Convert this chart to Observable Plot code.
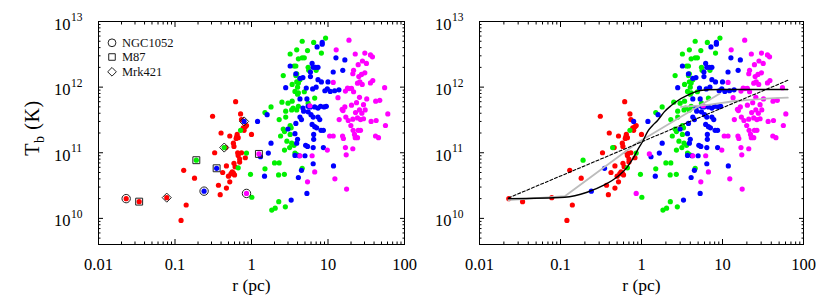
<!DOCTYPE html>
<html><head><meta charset="utf-8">
<script src="https://cdn.jsdelivr.net/npm/d3@7"></script>
<script src="https://cdn.jsdelivr.net/npm/@observablehq/plot@0.6"></script>
<style>
body{margin:0;background:#fff;}
#wrap{position:relative;width:830px;height:302px;overflow:hidden;font-family:"Liberation Serif","Times New Roman",Times,"DejaVu Serif",serif;}
#left{position:absolute;left:0;top:0;}
#right{position:absolute;left:415px;top:0;}
.ylab{position:absolute;font-size:20px;white-space:nowrap;transform:translate(-50%,-50%) rotate(-90deg);line-height:1;letter-spacing:0.6px;}
.ylab sub{font-size:14px;}
</style></head><body><div id="wrap"><div id="left"></div><div id="right"></div>
<div class="ylab" style="left:34px;top:128px;">T<sub>b</sub> (K)</div></div>
<script>
// ---- data (r in pc, Tb in K) ----
const redR = [0.023,0.034,0.078,0.12,0.14,0.13,0.18,0.31,0.33,0.40,0.52,0.58,0.46,0.65,0.67,0.62,0.72,0.74,0.83,0.86,0.80,1.0,0.66,0.74,0.67,0.83,0.70,0.59,0.61,0.58,0.56,0.54,0.60,0.50,0.52,0.47,0.39,0.37,0.42,0.47,0.59,0.63,0.78,0.70,0.64];
const redT = [2.0e10,1.8e10,2.07e10,9.3e9,1.6e10,5.4e10,4.1e10,3.6e11,1.0e11,2.0e11,1.8e11,1.4e11,1.2e11,1.9e11,1.7e11,6.0e11,3.9e11,3.2e11,2.5e11,2.6e11,2.2e11,1.9e11,1.0e11,1.0e11,9.1e10,8.4e10,7.2e10,6.9e10,6.1e10,4.9e10,5.1e10,4.8e10,4.6e10,4.4e10,3.6e10,2.9e10,2.3e10,3.2e10,5.0e10,6.3e10,1.25e11,1.65e11,2.4e11,8.0e10,1.75e11];
const greenR = [0.19,0.44,0.72,0.67,0.86,0.97,1.01,1.84,2.04,2.27,2.77,2.26,2.69,1.5,2.0,2.3,4.6,
  9.3,4.6,6.5,5.4,3.9,8.2,4.1,4.6,4.9,5.5,5.6,7.0,3.6,3.9,3.8,4.3,2.6,3.4,3.9,4.1,4.0,3.7,4.1,4.0,4.9,
  2.5,3.4,3.0,3.35,3.5,3.9,4.1,5.5,6.7,1.8,1.5,2.3,2.8,2.8,3.2,3.3,3.2,2.6,2.7,2.4,2.9,3.35,3.6,2.7,3.15,3.7,3.9,
  3.2,3.8];
const greenT = [7.7e10,1.2e11,2.2e11,5.9e10,9.9e10,4.7e10,2.1e10,1.34e10,1.43e10,1.8e10,1.5e10,4.6e10,4.7e10,5.7e10,7.0e10,7.0e10,5.8e10,
  5.6e12,5.0e12,4.8e12,3.6e12,3.7e12,3.3e12,2.7e12,2.8e12,2.8e12,2.0e12,1.8e12,1.8e12,2.1e12,1.6e12,1.5e12,1.3e12,1.5e12,1.1e12,1.2e12,1.16e12,1.0e12,8.6e11,8.2e11,7.8e11,8.5e11,
  5.9e11,6.1e11,5.7e11,4.5e11,4.8e11,4.5e11,5.1e11,5.7e11,6.8e11,5.0e11,4.1e11,3.2e11,4.3e11,3.5e11,2.6e11,2.4e11,1.9e11,2.3e11,2.1e11,1.8e11,1.5e11,1.4e11,1.3e11,1.1e11,1.2e11,9.9e10,9.4e10,
  3.2e12,2.1e12];
const blueR = [0.24,0.35,0.80,1.2,1.31,1.48,1.6,1.8,1.66,3.3,4.1,4.5,5.3,6.4,11.8,
  8.4,8.4,7.2,3.2,3.8,4.7,4.3,6.2,6.4,6.9,7.4,5.9,5.9,7.4,8.2,10.0,9.8,9.1,10.7,12.2,13.9,12.7,16.6,15.6,11.7,
  2.8,5.2,6.3,7.0,4.3,5.3,5.5,5.9,6.7,7.4,8.0,8.9,9.5,4.7,4.8,5.5,6.0,6.4,7.4,7.8,4.3,3.8,4.5,6.2,6.7,7.1,8.1,8.7,6.5,
  3.0,3.7,4.0,3.9,5.1,5.4,6.5,6.4,8.7,3.7,4.2,5.0];
const blueT = [2.6e10,5.8e10,3.0e11,3.0e11,8.7e10,4.4e10,3.8e11,1.4e11,9.9e10,1.9e10,4.2e10,5.4e10,2.4e10,6.8e10,6.3e10,
  4.8e12,4.5e12,4.1e12,2.1e12,1.6e12,1.4e12,1.36e12,2.3e12,2.0e12,2.0e12,2.0e12,1.7e12,1.45e12,1.3e12,1.2e12,1.2e12,9.4e11,8.8e11,8.6e11,8.8e11,9.1e11,2.8e12,2.6e12,1.8e12,1.7e12,
  9.8e11,9.7e11,9.4e11,1.0e12,6.6e11,6.6e11,5.1e11,5.0e11,5.0e11,4.8e11,5.1e11,5.0e11,5.1e11,4.8e11,4.3e11,4.2e11,3.8e11,3.5e11,3.5e11,3.2e11,3.5e11,2.8e11,3.2e11,2.7e11,2.5e11,2.4e11,2.2e11,2.2e11,1.9e11,
  2.3e11,1.95e11,1.6e11,1.4e11,1.3e11,1.25e11,1.6e11,1.2e11,1.2e11,9.1e10,9.0e10,9.0e10];
const magR = [0.86,1.25,5.4,6.7,12.3,17.5,4.3,6.2,5.8,10.5,9.8,
  18.8,12.8,22.7,30.3,35.9,38.1,28.2,31.8,24.8,21.6,21.1,30.3,27.4,25.3,11.7,18.0,20.3,21.6,18.9,16.9,26.1,28.0,24.3,35.9,38.5,55,
  32.1,25.8,23.6,20.3,29.1,30.6,42,47.5,13.5,15.3,15.7,16.6,14.0,17.1,18.4,21.1,24.3,26.6,29.1,27.7,22.9,25.8,36.6,42.6,56.4,60.5,
  19.9,21.3,24.8,26.6,22.7,22.2,11.7,15.5,15.9,24.3,41.8,45.7,16.9,21.1,17.3];
const magT = [2.4e10,9.6e10,3.6e10,5.1e10,4.0e10,2.8e10,9.0e10,9.0e10,5.2e11,1.8e11,1.1e11,
  5.2e12,3.7e12,3.2e12,3.3e12,3.1e12,2.9e12,2.5e12,2.3e12,2.2e12,1.8e12,1.6e12,1.65e12,1.56e12,1.45e12,1.18e12,9.7e11,9.6e11,8.5e11,9.5e11,8.7e11,1.2e12,1.1e12,1.15e12,1.16e12,1.26e12,9.8e11,
  6.6e11,7.0e11,5.8e11,5.3e11,5.4e11,4.5e11,6.1e11,6.3e11,6.9e11,4.6e11,4.4e11,5.0e11,3.2e11,3.5e11,3.1e11,3.25e11,3.4e11,3.2e11,3.3e11,4.0e11,4.1e11,4.5e11,3.0e11,3.1e11,2.6e11,3.9e11,
  2.6e11,2.2e11,2.2e11,2.2e11,1.7e11,1.9e11,1.8e11,1.8e11,1.65e11,1.7e11,1.8e11,1.7e11,1.2e11,1.15e11,9.3e10];
// open markers (left panel): NGC1052 circle, M87 square, Mrk421 diamond
const ngcR = [0.023,0.24,0.86], ngcT = [2.0e10,2.6e10,2.4e10];
const m87R = [0.034,0.19,0.35,1.25], m87T = [1.8e10,7.7e10,5.8e10,9.6e10];
const mrkR = [0.078,0.44,0.80], mrkT = [2.07e10,1.2e11,3.0e11];
// model curves (right panel)
const blackR = [0.0228,0.113,0.213,0.343,0.503,0.67,0.81,0.93,1.03,1.19,1.37,1.58,1.91,2.31,2.79,3.7,4.9,6.6,9.6,64];
const blackT = [2.0e10,2.1e10,2.5e10,3.2e10,4.3e10,6.1e10,8.7e10,1.2e11,1.47e11,2.1e11,2.6e11,3.1e11,4.2e11,5.2e11,6.2e11,7.5e11,8.7e11,9.1e11,9.2e11,9.2e11];
const dashR = [0.0228,64], dashT = [2.05e10,1.27e12];
const grayAR = [0.0228,0.113,0.89,9.2], grayAT = [1.9e10,2.18e10,1.42e11,7.9e11];
const grayBR = [3.07,6.0,15.5,64], grayBT = [5.0e11,5.3e11,6.2e11,6.9e11];
const xTicks = [0.01,0.1,1,10,100], xTickLabels = ["0.01","0.1","1","10","100"];
const yTicks = [1e10,1e11,1e12,1e13], yExponents = ["10","11","12","13"];
const legendNames = ["NGC1052","M87","Mrk421"];

const colors = {red:"#ff0000", green:"#00f000", blue:"#0000ff", magenta:"#ff00ff"};
const pts = (R,T,c) => R.map((r,i)=>({r, t:T[i], c}));
const allPts = [...pts(redR,redT,"red"),...pts(greenR,greenT,"green"),...pts(blueR,blueT,"blue"),...pts(magR,magT,"magenta")];
const line = (R,T) => R.map((r,i)=>({r, t:T[i]}));
const minorX = d3.range(-2,2).flatMap(e => d3.range(2,10).map(m => m*10**e));
const minorY = [4e9,5e9,6e9,7e9,8e9,9e9].concat(d3.range(10,13).flatMap(e => d3.range(2,10).map(m => m*10**e)));
const FONT = "Liberation Serif, Times New Roman, DejaVu Serif, serif";

function panel(el, {marginLeft, marginRight, left}) {
  const marks = [
    Plot.dot(allPts, {x:"r", y:"t", r:2.6, fill:d=>colors[d.c], stroke:null}),
  ];
  if (left) {
    const mk = {stroke:"#222", strokeWidth:1, fill:"none"};
    marks.push(
      Plot.dot(line(ngcR,ngcT), {x:"r", y:"t", r:4.2, symbol:"circle", ...mk}),
      Plot.dot(line(m87R,m87T), {x:"r", y:"t", r:3.9, symbol:"square", ...mk}),
      Plot.dot(line(mrkR,mrkT), {x:"r", y:"t", r:4.1, symbol:"diamond2", ...mk}),
      Plot.dot([0], {frameAnchor:"top-left", dx:13.5, dy:21.3, r:3.9, symbol:"circle", ...mk}),
      Plot.dot([0], {frameAnchor:"top-left", dx:13.5, dy:35.5, r:3.7, symbol:"square", ...mk}),
      Plot.dot([0], {frameAnchor:"top-left", dx:13.5, dy:50.3, r:3.9, symbol:"diamond2", ...mk}),
      ...legendNames.map((name,i) => Plot.text([name], {frameAnchor:"top-left", dx:23.5, dy:[25.6,39.8,54.6][i], text:d=>d, textAnchor:"start", lineAnchor:"bottom", fontSize:12.5, fontFamily:FONT, fill:"#111"}))
    );
  } else {
    marks.push(
      Plot.line(line(grayAR,grayAT), {x:"r", y:"t", stroke:"#bcbcbc", strokeWidth:1.8}),
      Plot.line(line(grayBR,grayBT), {x:"r", y:"t", stroke:"#bcbcbc", strokeWidth:1.8, curve:"monotone-x"}),
      Plot.line(line(dashR,dashT), {x:"r", y:"t", stroke:"#000", strokeWidth:1.1, strokeDasharray:"3,2"}),
      Plot.line(line(blackR,blackT), {x:"r", y:"t", stroke:"#000", strokeWidth:1.4, curve:"monotone-x"})
    );
  }
  marks.push(
    Plot.frame({stroke:"#000", strokeWidth:1}),
    ...["bottom","top"].flatMap(a => [
      Plot.axisX(xTicks, {anchor:a, tickSize:-5, tickFormat:()=>"", label:null}),
      Plot.axisX(minorX, {anchor:a, tickSize:-2.5, tickFormat:()=>"", label:null})
    ]),
    ...["left","right"].flatMap(a => [
      Plot.axisY(yTicks, {anchor:a, tickSize:-5, tickFormat:()=>"", label:null}),
      Plot.axisY(minorY, {anchor:a, tickSize:-2.5, tickFormat:()=>"", label:null})
    ]),
    Plot.text(xTicks, {x:d=>d, frameAnchor:"bottom", text:(d,i)=>xTickLabels[i], lineAnchor:"bottom", dy:25, fontSize:16.5, fontFamily:FONT, fill:"#000"}),
    Plot.text(yTicks, {y:d=>d, frameAnchor:"left", text:()=>"10", textAnchor:"end", lineAnchor:"bottom", dx:-28, dy:8, fontSize:16.5, fontFamily:FONT, fill:"#000"}),
    Plot.text(yTicks, {y:d=>d, frameAnchor:"left", text:(d,i)=>yExponents[i], textAnchor:"start", lineAnchor:"bottom", dx:-27.5, dy:-0.5, fontSize:11.5, fontFamily:FONT, fill:"#000"}),
    Plot.text(["r (pc)"], {frameAnchor:"bottom", text:d=>d, lineAnchor:"bottom", dy:46, fontSize:17.5, fontFamily:FONT, fill:"#000"})
  );
  const chart = Plot.plot({
    width:415, height:302, marginLeft, marginRight, marginTop:21, marginBottom:58,
    x:{type:"log", domain:[0.01,100]},
    y:{type:"log", domain:[4e9,1e13]},
    style:{background:"transparent", fontFamily:FONT, overflow:"visible"},
    marks
  });
  el.appendChild(chart);
}
panel(document.getElementById("left"), {marginLeft:98, marginRight:11, left:true});
panel(document.getElementById("right"), {marginLeft:64, marginRight:27, left:false});
</script></body></html>
